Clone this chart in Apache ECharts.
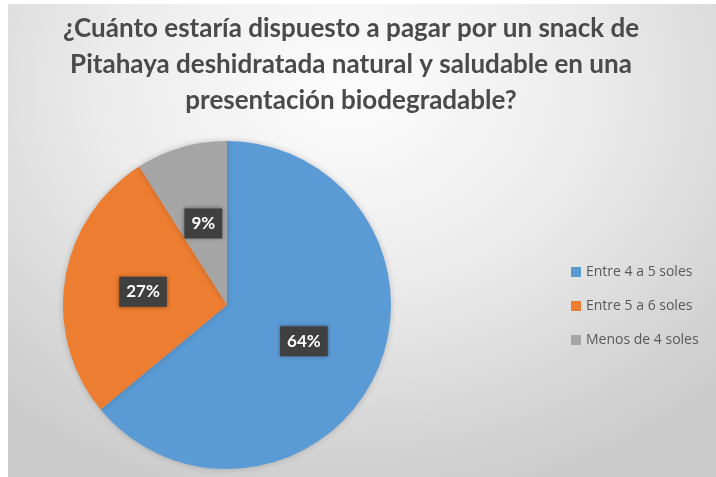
<!DOCTYPE html>
<html>
<head>
<meta charset="utf-8">
<script src="https://cdn.jsdelivr.net/npm/echarts@6/dist/echarts.min.js"></script>
<style>
  html, body { margin: 0; padding: 0; background: #fff; }
  #chart {
    position: absolute; left: 8px; top: 4px; width: 708px; height: 473px;
    background: radial-gradient(ellipse 75% 90% at 48% 18%, #fdfdfd 0%, #ececec 45%, #d6d6d6 80%, #cbcbcb 100%);
  }
</style>
</head>
<body>
<div id="chart"></div>
<script>
const titleText = '¿Cuánto estaría dispuesto a pagar por un snack de\nPitahaya deshidratada natural y saludable en una\npresentación biodegradable?'
const categories = ['Entre 4 a 5 soles', 'Entre 5 a 6 soles', 'Menos de 4 soles']
const percents = [64, 27, 9]
const colors = ['#5B9BD5', '#ED7D31', '#A5A5A5']

const chart = echarts.init(document.getElementById('chart'))

chart.setOption({
  color: colors,
  title: {
    text: titleText,
    left: 338,
    top: 2,
    textAlign: 'center',
    textStyle: {
      fontFamily: 'Lato',
      fontWeight: 'bold',
      fontSize: 26,
      lineHeight: 36,
      color: '#4a4a4a'
    }
  },
  legend: {
    orient: 'vertical',
    left: 558,
    top: 256,
    itemWidth: 10,
    itemHeight: 10,
    itemGap: 20,
    icon: 'rect',
    data: categories,
    textStyle: { fontFamily: 'Open Sans', fontSize: 14, color: '#595959' }
  },
  series: [{
    type: 'pie',
    center: [219, 301],
    radius: 164,
    startAngle: 90,
    clockwise: true,
    animation: false,
    data: categories.map((name, i) => ({ name, value: percents[i] })),
    itemStyle: { shadowBlur: 6, shadowColor: 'rgba(0,0,0,0.2)' },
    label: {
      position: 'inside',
      formatter: '{c}%',
      color: '#fff',
      fontFamily: 'Lato',
      fontWeight: 'bold',
      fontSize: 17,
      backgroundColor: '#404040',
      padding: [7, 7, 6, 7],
      shadowBlur: 4,
      shadowColor: 'rgba(0,0,0,0.4)'
    },
    labelLine: { show: false },
    emphasis: { disabled: true }
  }]
})
</script>
</body>
</html>
